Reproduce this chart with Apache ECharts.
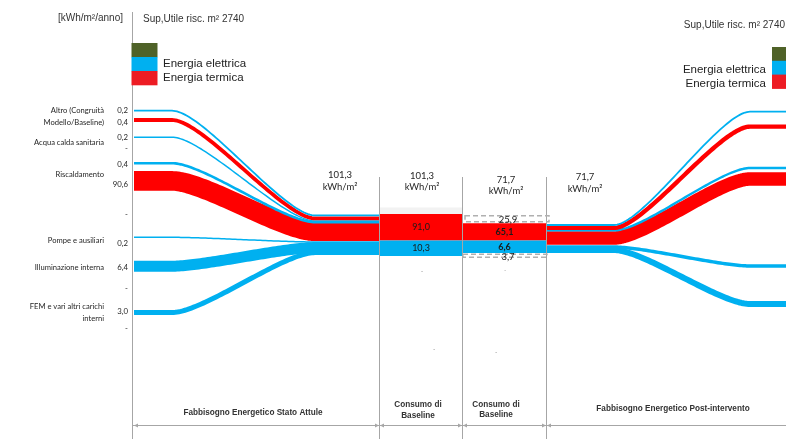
<!DOCTYPE html>
<html>
<head>
<meta charset="utf-8">
<script src="https://cdn.jsdelivr.net/npm/echarts/dist/echarts.min.js"></script>
<style>
html,body{margin:0;padding:0;background:#ffffff;}
#main{width:786px;height:439px;}
</style>
</head>
<body>
<div id="main"></div>
<script>
// ================= DATA =================
const unitLabel = '[kWh/m²/anno]';
const surfaceLabel = 'Sup,Utile risc. m² 2740';
const legendLabels = ['', 'Energia elettrica', 'Energia termica'];
const legendKeys = ['other', 'el', 'th'];
const categoryLabels = [
  'Altro (Congruità\nModello/Baseline)',
  'Acqua calda sanitaria',
  'Riscaldamento',
  'Pompe e ausiliari',
  'Illuminazione interna',
  'FEM e vari altri carichi\ninterni'
];
const tickValueLabels = ['0,2', '0,4', '0,2', '-', '0,4', '90,6', '-', '0,2', '6,4', '-', '3,0', '-'];
// flows of the current state (left)
const flowsBeforeCarrier = ['el', 'th', 'el', 'el', 'th', 'el', 'el', 'el'];
const flowsBeforeValue = [0.2, 0.4, 0.2, 0.4, 90.6, 0.2, 6.4, 3.0];
// flows after the intervention (right, estimated)
const flowsAfterCarrier = ['el', 'th', 'el', 'th', 'el', 'el'];
const flowsAfterValue = [0.2, 0.4, 0.4, 64.7, 3.0, 3.0];
// stages
const stageTotals = [101.3, 101.3, 71.7, 71.7];
const stageUnit = 'kWh/m²';
const stageNames = [
  'Fabbisogno Energetico Stato Attule',
  'Consumo di\nBaseline',
  'Consumo di\nBaseline',
  'Fabbisogno Energetico Post-intervento'
];
const baselineThermal = [91.0, 65.1];
const baselineElectric = [10.3, 6.6];
const savingsThermal = [25.9];
const savingsElectric = [3.7];

// ================= LAYOUT (layout units of the axes) =================
const stageEdges = [133, 379, 462, 546, 786];
const leftBend = [172, 315];
const rightBend = [614, 750];
// [yStart, yTrunk, width]
const lanesBefore = [
  [110.7, 215.4, 1.8],
  [120.0, 218.4, 3.8],
  [137.2, 221.0, 1.5],
  [163.2, 222.2, 2.6],
  [180.9, 231.3, 19.6],
  [237.3, 242.0, 1.5],
  [266.2, 247.6, 11],
  [312.5, 252.6, 5]
];
// [yTrunk, yEnd, width]
const lanesAfter = [
  [225.0, 111.7, 1.8],
  [227.9, 126.6, 4.4],
  [230.4, 168.0, 2.4],
  [238.0, 179.0, 13.5],
  [247.0, 266.0, 3.5],
  [250.0, 304.0, 6]
];
// boxes: [thermalTop, thermalBottom, electricBottom]
const boxBands = [[214, 240.5, 256], [223.3, 240.5, 253]];
const savingsBands = [[215.7, 221.7], [254.3, 257.3]];
const categoryY = [117, 142.3, 175, 241, 267.7, 312.7];
const tickValueY = [110, 122.3, 137.3, 148.3, 164, 184.3, 214, 243.3, 267.7, 288.3, 311, 328.3];
const stageLabelX = [340, 422, 506, 585];
const stageLabelY = [175, 175.5, 179.5, 177];
const stageNameX = [253, 418, 496, 673];
const stageNameY = [413, 410, 409.5, 408.5];

const COL = { el: '#00b0f0', th: '#ff0000', other: '#4f6228', legendTh: '#ed1c24', grid: '#a6a6a6', text: '#262626' };
const fmt = v => v.toFixed(1).replace('.', ',');

function lanePoints(xa, xb, xc, xd, y0, y1) {
  const pts = [[xa, y0], [xb, y0]];
  const dx = xc - xb, k = 0.22;
  const P = [[xb, y0], [xb + k * dx, y0], [xc - k * dx, y1], [xc, y1]];
  const N = 60;
  for (let i = 1; i < N; i++) {
    const t = i / N, u = 1 - t;
    const x = u*u*u*P[0][0] + 3*u*u*t*P[1][0] + 3*u*t*t*P[2][0] + t*t*t*P[3][0];
    const y = u*u*u*P[0][1] + 3*u*u*t*P[1][1] + 3*u*t*t*P[2][1] + t*t*t*P[3][1];
    pts.push([x, y]);
  }
  pts.push([xc, y1], [xd, y1]);
  return pts;
}

function txt(api, x, y, text, o) {
  const p = api.coord([x, y]);
  return {
    type: 'text', x: p[0], y: p[1], silent: true,
    style: Object.assign({ text: text, fill: COL.text, fontFamily: 'Lato', fontSize: 8, align: 'right', verticalAlign: 'middle', lineHeight: 12 }, o || {})
  };
}
function line(api, x1, y1, x2, y2, o) {
  const a = api.coord([x1, y1]), b = api.coord([x2, y2]);
  return { type: 'line', silent: true, shape: { x1: a[0], y1: a[1], x2: b[0], y2: b[1] }, style: Object.assign({ stroke: COL.grid, lineWidth: 1 }, o || {}) };
}
function rect(api, x1, y1, x2, y2, o) {
  const a = api.coord([x1, y1]), b = api.coord([x2, y2]);
  return { type: 'rect', silent: true, shape: { x: a[0], y: a[1], width: b[0] - a[0], height: b[1] - a[1] }, style: Object.assign({ fill: '#000' }, o || {}) };
}
function tri(api, x, y, dir) {
  const p = api.coord([x, y]);
  const pts = dir > 0 ? [[p[0], p[1]], [p[0] - 4, p[1] - 2], [p[0] - 4, p[1] + 2]] : [[p[0], p[1]], [p[0] + 4, p[1] - 2], [p[0] + 4, p[1] + 2]];
  return { type: 'polygon', silent: true, shape: { points: pts }, style: { fill: COL.grid } };
}

const chart = echarts.init(document.getElementById('main'), null, { renderer: 'canvas' });

const option = {
  animation: false,
  backgroundColor: '#ffffff',
  grid: { left: 0, right: 0, top: 0, bottom: 0 },
  xAxis: { type: 'value', min: 0, max: 786, show: false },
  yAxis: { type: 'value', min: 0, max: 439, inverse: true, show: false },
  series: [
    // ----- frame, legend, labels -----
    {
      type: 'custom', silent: true, clip: false, z: 1,
      data: [[0, 0]],
      renderItem: function (params, api) {
        const ch = [];
        ch.push(line(api, 132.5, 12, 132.5, 439));
        for (let i = 1; i <= 3; i++) ch.push(line(api, stageEdges[i] + 0.5, 177, stageEdges[i] + 0.5, 439));
        ch.push(line(api, stageEdges[0], 425.5, stageEdges[4], 425.5));
        for (let i = 0; i < 4; i++) {
          ch.push(tri(api, stageEdges[i] + 1, 425.5, -1));
          if (i < 3) ch.push(tri(api, stageEdges[i + 1], 425.5, 1));
        }
        ch.push(txt(api, 123, 18, unitLabel, { fontFamily: 'Liberation Sans', fontSize: 10, fill: '#333' }));
        ch.push(txt(api, 143, 19, surfaceLabel, { fontFamily: 'Liberation Sans', fontSize: 10, fill: '#333', align: 'left' }));
        ch.push(txt(api, 785, 25, surfaceLabel, { fontFamily: 'Liberation Sans', fontSize: 10, fill: '#333', align: 'right' }));
        const legCol = { other: COL.other, el: COL.el, th: COL.legendTh };
        for (let i = 0; i < legendKeys.length; i++) {
          ch.push(rect(api, 131.5, 43 + i * 14, 157.5, 57.3 + i * 14, { fill: legCol[legendKeys[i]] }));
          ch.push(rect(api, 772, 47 + i * 13.8, 786, 61.3 + i * 13.8, { fill: legCol[legendKeys[i]] }));
          if (legendLabels[i]) {
            ch.push(txt(api, 163, 50 + i * 14, legendLabels[i], { fontFamily: 'Liberation Sans', fontSize: 11.5, fill: '#222', align: 'left' }));
            ch.push(txt(api, 766, 56 + i * 13.8, legendLabels[i], { fontFamily: 'Liberation Sans', fontSize: 11.5, fill: '#222', align: 'right' }));
          }
        }
        for (let i = 0; i < categoryLabels.length; i++) ch.push(txt(api, 104, categoryY[i], categoryLabels[i], { fontSize: 7.6 }));
        for (let i = 0; i < tickValueLabels.length; i++) ch.push(txt(api, 128, tickValueY[i], tickValueLabels[i], { fontSize: 7.8 }));
        for (let i = 0; i < 4; i++) {
          ch.push(txt(api, stageLabelX[i], stageLabelY[i], fmt(stageTotals[i]), { align: 'center', fontSize: 9.5 }));
          ch.push(txt(api, stageLabelX[i], stageLabelY[i] + 11.5, stageUnit, { align: 'center', fontSize: 9.5 }));
        }
        for (let i = 0; i < 4; i++) {
          ch.push(txt(api, stageNameX[i], stageNameY[i], stageNames[i], { align: 'center', fontFamily: 'Liberation Sans', fontWeight: 'bold', fontSize: 8.2, lineHeight: 10.5, fill: '#333' }));
        }
        ch.push(txt(api, 422, 213, '-', { align: 'center', fontSize: 7, fill: '#999' }));
        ch.push(txt(api, 422, 272, '-', { align: 'center', fontSize: 7, fill: '#999' }));
        ch.push(txt(api, 505, 269, '.', { align: 'center', fontSize: 7, fill: '#999' }));
        ch.push(txt(api, 434, 348, '.', { align: 'center', fontSize: 7, fill: '#777' }));
        ch.push(txt(api, 496, 351, '.', { align: 'center', fontSize: 7, fill: '#777' }));
        return { type: 'group', children: ch };
      }
    },
    {
      type: 'custom', silent: true, clip: false, z: 2,
      data: flowsBeforeValue.map((v, i) => [i, v]).reverse(),
      renderItem: function (params, api) {
        const i = api.value(0);
        const L = lanesBefore[i];
        const pts = lanePoints(stageEdges[0] + 1, leftBend[0], leftBend[1], stageEdges[1], L[0], L[1]).map(p => api.coord(p));
        const w = api.size([0, L[2]])[1];
        return { type: 'polyline', shape: { points: pts }, style: { stroke: COL[flowsBeforeCarrier[i]], lineWidth: w, fill: null, lineJoin: 'round', lineCap: 'butt' } };
      }
    },
    {
      type: 'custom', silent: true, clip: false, z: 2,
      data: flowsAfterValue.map((v, i) => [i, v]).reverse(),
      renderItem: function (params, api) {
        const i = api.value(0);
        const L = lanesAfter[i];
        const pts = lanePoints(stageEdges[3] + 1, rightBend[0], rightBend[1], stageEdges[4], L[0], L[1]).map(p => api.coord(p));
        const w = api.size([0, L[2]])[1];
        return { type: 'polyline', shape: { points: pts }, style: { stroke: COL[flowsAfterCarrier[i]], lineWidth: w, fill: null, lineJoin: 'round', lineCap: 'butt' } };
      }
    },
    {
      type: 'custom', silent: true, clip: false, z: 3,
      data: baselineThermal.map((v, i) => [i, v, baselineElectric[i]]),
      renderItem: function (params, api) {
        const i = api.value(0);
        const B = boxBands[i];
        const x1 = stageEdges[1 + i] + 1, x2 = stageEdges[2 + i];
        const xc = (x1 + x2) / 2;
        const ch = [];
        if (i === 0) ch.push(rect(api, x1, 207.5, x2, B[0], { fill: '#f2f2f2' }));
        ch.push(rect(api, x1, B[0], x2, B[1], { fill: COL.th }));
        ch.push(rect(api, x1, B[1], x2, B[2], { fill: COL.el }));
        const bold = i === 1 ? 'bold' : 'normal';
        ch.push(txt(api, xc, (B[0] + B[1]) / 2, fmt(api.value(1)), { align: 'center', fontSize: 9, fontWeight: bold, fill: '#1a1a1a' }));
        ch.push(txt(api, xc, (B[1] + B[2]) / 2, fmt(api.value(2)), { align: 'center', fontSize: 9, fontWeight: bold, fill: '#1a1a1a' }));
        return { type: 'group', children: ch };
      }
    },
    {
      type: 'custom', silent: true, clip: false, z: 4,
      data: savingsThermal.map((v, i) => [i, v, savingsElectric[i]]),
      renderItem: function (params, api) {
        const x1 = stageEdges[2] + 3, x2 = stageEdges[3] + 3;
        const xc = (stageEdges[2] + stageEdges[3]) / 2 + 4;
        const dash = { fill: 'none', stroke: '#b0b0b0', lineWidth: 1.5, lineDash: [5, 3] };
        const ch = [];
        ch.push(rect(api, x1, savingsBands[0][0], x2, savingsBands[0][1], dash));
        ch.push(rect(api, x1 - 2, savingsBands[1][0], x2 - 2, savingsBands[1][1], dash));
        ch.push(txt(api, xc, 220, fmt(api.value(1)), { align: 'center', fontSize: 9.5, fill: '#1a1a1a' }));
        ch.push(txt(api, xc, 256.5, fmt(api.value(2)), { align: 'center', fontSize: 9.5, fill: '#1a1a1a' }));
        return { type: 'group', children: ch };
      }
    }
  ]
};
chart.setOption(option);
</script>
</body>
</html>
